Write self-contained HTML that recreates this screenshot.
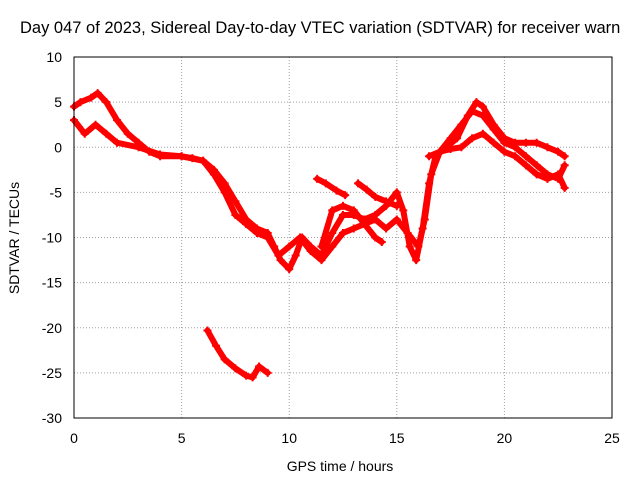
<!DOCTYPE html>
<html><head><meta charset="utf-8">
<style>
html,body{margin:0;padding:0;background:#fff;width:640px;height:480px;overflow:hidden}
svg text{font-family:"Liberation Sans",sans-serif;font-size:14px;fill:#000}
</style></head>
<body>
<svg id="chart" width="640" height="480" xmlns="http://www.w3.org/2000/svg">
<g id="grid"></g>
<g id="series"></g>
<rect x="74" y="57" width="538" height="361" fill="none" stroke="#000" stroke-width="1"/>
<g id="ticks"></g>
<text x="20" y="33" style="font-size:16.5px">Day 047 of 2023, Sidereal Day-to-day VTEC variation (SDTVAR) for receiver warn</text>
<text x="340" y="471" text-anchor="middle">GPS time / hours</text>
<text transform="translate(19,238) rotate(-90)" text-anchor="middle">SDTVAR / TECUs</text>
</svg>
<script>
const xTicks=[0,5,10,15,20,25];
const yTicks=[-30,-25,-20,-15,-10,-5,0,5,10];
const trackA=[[0,4.5],[0.3,5],[0.8,5.5],[1.1,6],[1.5,5],[2,3],[2.5,1.5],[3,0.5],[3.5,-0.5],[4,-1],[5,-1],[5.5,-1.2],[6,-1.5],[6.5,-2.5],[7,-4],[7.5,-6],[8,-8],[8.5,-9],[9,-9.5],[9.3,-11],[9.6,-12.5],[10,-13.5],[10.3,-12],[10.6,-10],[11,-11],[11.5,-12],[12,-9.5],[12.5,-7.5],[13,-7.5],[13.5,-8],[14,-7.5],[14.5,-6.5],[15,-5],[15.3,-7],[15.6,-11],[15.9,-12.5],[16.2,-9],[16.5,-4],[16.8,-1],[17.3,0],[17.8,1],[18.3,3.5],[18.7,5],[19,4.5],[19.5,2.5],[20,1],[20.5,0.5],[21,0.5],[21.5,0.5],[22,0],[22.5,-0.5],[22.8,-1]];
const trackB=[[0,3],[0.5,1.5],[1,2.5],[1.5,1.5],[2,0.5],[3,0],[4,-0.8],[5,-1],[6,-1.5],[6.5,-3],[7,-5],[7.5,-7.5],[8,-8.5],[8.5,-9.5],[9,-10],[9.5,-12],[10,-11],[10.5,-10],[11,-11.5],[11.5,-12.5],[12,-11],[12.5,-9.5],[13,-9],[13.5,-8.5],[14,-8],[14.5,-9],[15,-8],[15.5,-9.5],[16,-11],[16.3,-8],[16.6,-3],[17,-0.5],[17.5,1],[18,2.5],[18.5,4],[19,3.5],[19.5,2],[20,0.5],[20.5,0],[21,-1],[21.5,-2],[22,-3],[22.5,-3.5],[22.8,-2]];
const trackC=[[16.5,-1],[17,-0.5],[17.5,-0.2],[18,0],[18.5,1],[19,1.5],[19.5,0.5],[20,-0.5],[20.5,-1],[21,-2],[21.5,-3],[22,-3.5],[22.5,-3],[22.8,-4.5]];
const trackD=[[6.2,-20.3],[6.6,-22],[7,-23.5],[7.5,-24.5],[8,-25.3],[8.3,-25.5],[8.6,-24.3],[9,-25]];
const trackE=[[11.3,-3.5],[11.7,-4],[12.2,-4.8],[12.6,-5.3]];
const trackF=[[13.2,-4],[13.6,-4.7],[14,-5.5],[14.5,-6],[15,-6.5]];
const trackG=[[11.5,-11],[12,-7],[12.5,-6.5],[13,-7],[13.5,-8.5],[14,-10],[14.3,-10.5]];
const tracks=[trackA,trackB,trackC,trackD,trackE,trackF,trackG];
const X=v=>74+v*538/25, Y=v=>57+(10-v)*361/40;
const NS='http://www.w3.org/2000/svg';
const grid=document.getElementById('grid'),ticks=document.getElementById('ticks'),ser=document.getElementById('series');
function mk(t,a,p){const e=document.createElementNS(NS,t);for(const k in a)e.setAttribute(k,a[k]);p.appendChild(e);return e;}
xTicks.forEach(t=>{
 if(t>0&&t<25){const g=mk('line',{x1:X(t),x2:X(t),y1:57,y2:418,stroke:'#a0a0a0','stroke-dasharray':'1,2'},grid);
 
 }
 const l=mk('text',{x:X(t),y:443,'text-anchor':'middle'},ticks);l.textContent=t;
 
 
});
yTicks.forEach(t=>{
 if(t>-30&&t<10){const g=mk('line',{x1:74,x2:612,y1:Y(t),y2:Y(t),stroke:'#a0a0a0','stroke-dasharray':'1,2'},grid);
 
 }
 const l=mk('text',{x:62,y:Y(t)+5,'text-anchor':'end'},ticks);l.textContent=t;
 
 
});
tracks.forEach(tr=>{
 const p=mk('polyline',{points:tr.map(d=>X(d[0])+','+Y(d[1])).join(' '),fill:'none',stroke:'#ff0000','stroke-width':6,'stroke-linejoin':'round','stroke-linecap':'round'},ser);
 
 
 tr.forEach(d=>{
  const m=mk('path',{d:`M${X(d[0])-4},${Y(d[1])}h8M${X(d[0])},${Y(d[1])-4}v8`,stroke:'#ff0000','stroke-width':2},ser);
  
  
 });
});
</script>
</body></html>
